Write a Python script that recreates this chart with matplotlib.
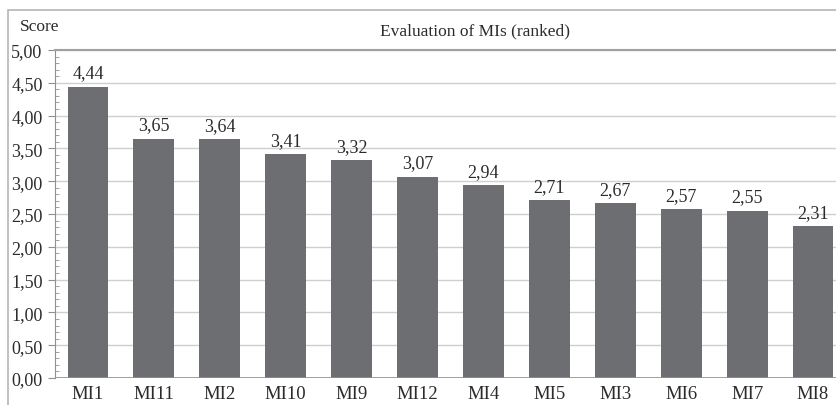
import matplotlib.pyplot as plt
from matplotlib.patches import Rectangle
from matplotlib.ticker import MultipleLocator, FuncFormatter

plt.rcParams['font.family'] = ['Liberation Serif', 'DejaVu Serif']

categories = ['MI1', 'MI11', 'MI2', 'MI10', 'MI9', 'MI12', 'MI4', 'MI5', 'MI3', 'MI6', 'MI7', 'MI8']
scores = [4.44, 3.65, 3.64, 3.41, 3.32, 3.07, 2.94, 2.71, 2.67, 2.57, 2.55, 2.31]

bar_color = '#6d6e71'
text_color = '#2b2b2b'
grid_color = '#cfcfcf'

W, H = 836, 406
fig = plt.figure(figsize=(W / 100, H / 100), dpi=100)

# outer chart frame
fig.patches.append(Rectangle((8 / W, -0.05), 1.2, 1 - 11 / H + 0.05,
                             transform=fig.transFigure, fill=False,
                             edgecolor='#b5b5b5', linewidth=1.2))

ax = fig.add_axes([55 / W, 1 - 379 / H, 791 / W, 328 / H])

x = range(len(categories))
ax.bar(x, scores, width=0.62, color=bar_color, zorder=3)

for xi, v in zip(x, scores):
    ax.text(xi, v + 0.08, f'{v:.2f}'.replace('.', ','), ha='center', va='bottom',
            fontsize=13, color=text_color)

ax.set_xlim(-0.5, len(categories) - 0.5)
ax.set_ylim(0, 5)
ax.set_xticks(list(x))
ax.set_xticklabels(categories, fontsize=13.5, color=text_color)
ax.tick_params(axis='x', length=0, pad=5)

ax.yaxis.set_major_locator(MultipleLocator(0.5))
ax.yaxis.set_minor_locator(MultipleLocator(0.1))
ax.yaxis.set_major_formatter(FuncFormatter(lambda v, p: f'{v:.2f}'.replace('.', ',')))
ax.tick_params(axis='y', which='major', direction='out', length=5, color='#909090',
               labelsize=13, labelcolor=text_color, pad=4)
ax.tick_params(axis='y', which='minor', direction='in', length=3, color='#909090')

ax.grid(axis='y', which='major', color=grid_color, linewidth=1, zorder=0)
for s in ['right', 'bottom']:
    ax.spines[s].set_visible(False)
ax.spines['top'].set_color('#a0a0a0')
ax.spines['top'].set_linewidth(1.5)
ax.spines['left'].set_color('#909090')
ax.axhline(0, color='#909090', linewidth=1.2, zorder=4)

fig.text(20 / W, 1 - 27 / H, 'Score', ha='left', va='center', fontsize=12.5, color=text_color)
fig.text(475 / W, 1 - 31 / H, 'Evaluation of MIs (ranked)', ha='center', va='center',
         fontsize=12.5, color=text_color)

fig.savefig('out.png', dpi=100)
